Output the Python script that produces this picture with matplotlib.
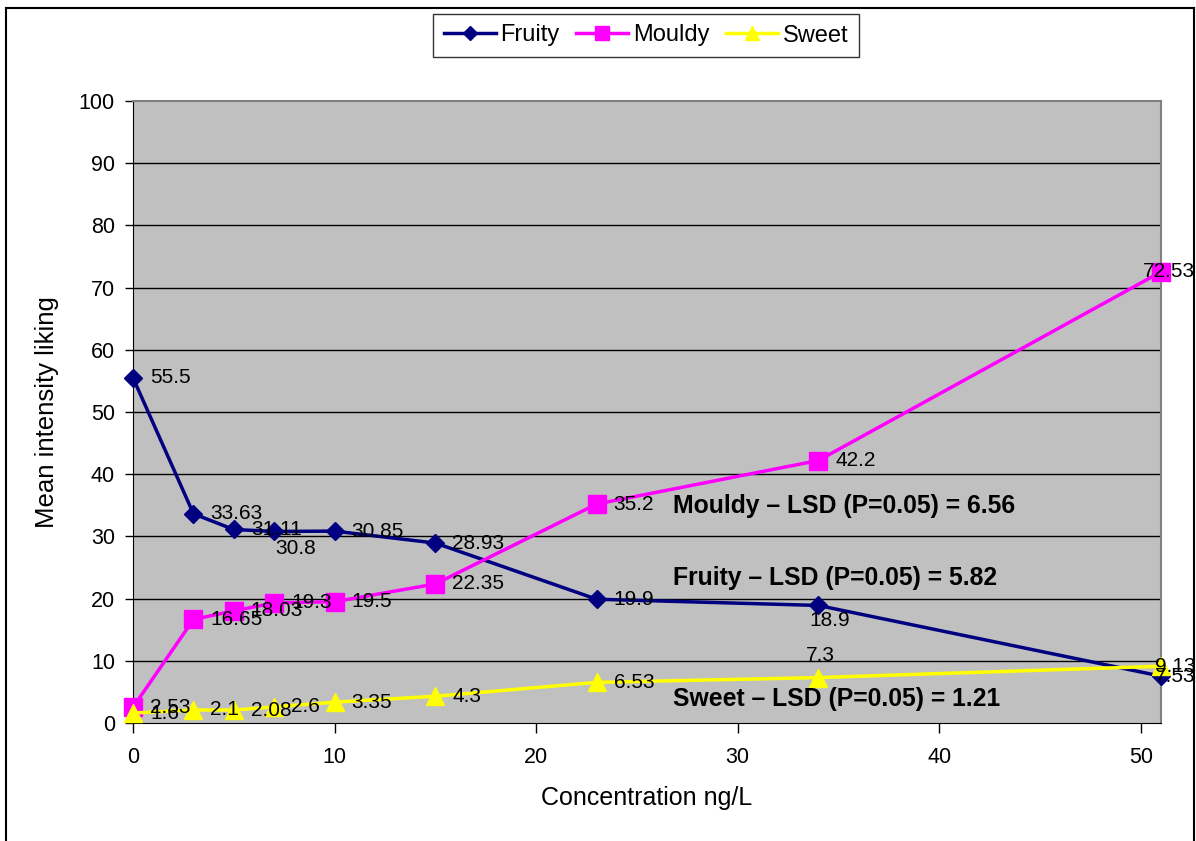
import matplotlib.pyplot as plt
from matplotlib.lines import Line2D

plt.rcParams["font.family"] = ["Liberation Sans", "DejaVu Sans"]

concentration = [0, 3, 5, 7, 10, 15, 23, 34, 51]
fruity = [55.5, 33.63, 31.11, 30.8, 30.85, 28.93, 19.9, 18.9, 7.53]
mouldy = [2.53, 16.65, 18.03, 19.3, 19.5, 22.35, 35.2, 42.2, 72.53]
sweet = [1.6, 2.1, 2.08, 2.6, 3.35, 4.3, 6.53, 7.3, 9.13]

lsd_notes = [
    ("Mouldy \u2013 LSD (P=0.05) = 6.56", 34.9),
    ("Fruity \u2013 LSD (P=0.05) = 5.82", 23.3),
    ("Sweet \u2013 LSD (P=0.05) = 1.21", 3.9),
]

# label offsets in pixels (dx, dy, ha)
R = (17, 0, "left")
fruity_offsets = [R, R, R, (1, -17, "left"), R, R, R, (-9, -15, "left"), (-6, 0, "left")]
mouldy_offsets = [R, R, R, R, R, R, R, R, (-18, 0, "left")]
sweet_offsets = [R, R, R, R, R, R, R, (2, 22, "center"), (-6, 0, "left")]

W, H = 1196, 841
fig = plt.figure(figsize=(W / 100, H / 100), dpi=100, facecolor="white")
ax = fig.add_axes([133 / W, 1 - 723 / H, (1161 - 133) / W, (723 - 101) / H])
ax.set_facecolor("#C0C0C0")

series = [
    ("Fruity", fruity, "#000080", "D", 9.5, fruity_offsets),
    ("Mouldy", mouldy, "#FF00FF", "s", 12.5, mouldy_offsets),
    ("Sweet", sweet, "#FFFF00", "^", 13, sweet_offsets),
]

for name, values, color, marker, ms, offsets in series:
    ax.plot(concentration, values, color=color, lw=2.5, marker=marker, ms=ms,
            mec=color, mfc=color, clip_on=False, zorder=3)

for name, values, color, marker, ms, offsets in series:
    for x, y, (dx, dy, ha) in zip(concentration, values, offsets):
        ax.annotate(f"{y:g}", (x, y), xytext=(dx, dy), textcoords="offset pixels",
                    ha=ha, va="center", fontsize=15, color="black",
                    annotation_clip=False, zorder=5)

for text, y in lsd_notes:
    ax.text(26.8, y, text, ha="left", va="center", fontsize=17.8, fontweight="bold",
            zorder=4)

ax.set_xlim(0, 51)
ax.set_ylim(0, 100)
ax.set_xticks(range(0, 51, 10))
ax.set_yticks(range(0, 101, 10))
for y in range(10, 100, 10):
    ax.axhline(y, color="black", lw=1, zorder=1)

ax.tick_params(axis="x", direction="out", length=7, width=1, labelsize=15.5, pad=10)
ax.tick_params(axis="y", direction="out", length=6, width=1, labelsize=15.5, pad=7)
ax.spines["left"].set_color("black")
ax.spines["bottom"].set_color("black")
for side in ("top", "right"):
    ax.spines[side].set_color("#808080")
    ax.spines[side].set_linewidth(1.5)

ax.set_xlabel("Concentration ng/L", fontsize=18, labelpad=13)
ax.set_ylabel("Mean intensity liking", fontsize=18.5, labelpad=14)

handles = [
    Line2D([0], [0], color=c, lw=2.5, marker=m, ms=ms * 0.8, mec=c, mfc=c, label=n)
    for n, v, c, m, ms, o in series
]
leg = fig.legend(handles=handles, loc="center", bbox_to_anchor=(646 / W, 1 - 35.5 / H),
                 ncol=3, fontsize=17, frameon=True, fancybox=False, handlelength=2.2,
                 handletextpad=0.2, columnspacing=0.7, borderpad=0.45)
leg.get_frame().set_edgecolor("black")
leg.get_frame().set_linewidth(1)

# outer chart frame
frame_kw = dict(color="black", lw=1.5, transform=fig.transFigure)
fig.add_artist(Line2D([6 / W, 6 / W], [0, 1 - 8 / H], **frame_kw))
fig.add_artist(Line2D([6 / W, 1194 / W], [1 - 8 / H, 1 - 8 / H], **frame_kw))
fig.add_artist(Line2D([1194 / W, 1194 / W], [0, 1 - 8 / H], **frame_kw))

fig.savefig("out.png", dpi=100)
